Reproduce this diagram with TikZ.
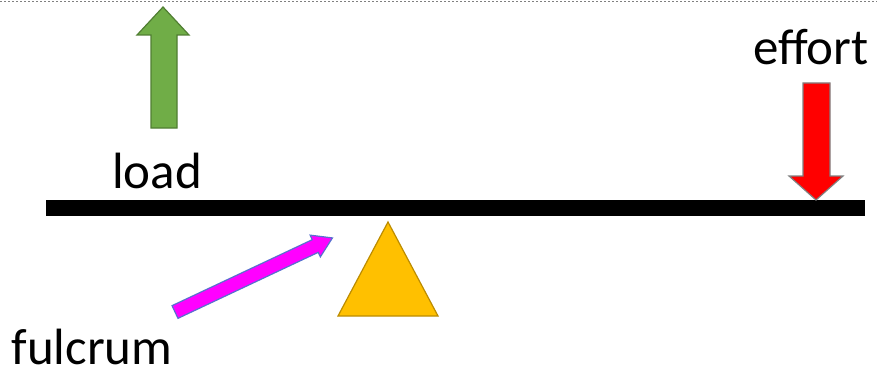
\documentclass[tikz,border=0pt]{standalone}
\usepackage{xcolor}
\usepackage{fontspec}
\setmainfont{Carlito}
\usepackage{tikz}

\definecolor{loadgreen}{HTML}{70AD47}
\definecolor{loadedge}{HTML}{507E32}
\definecolor{fulcorange}{HTML}{FFC000}
\definecolor{fulcedge}{HTML}{BC8C00}
\definecolor{pointpink}{HTML}{FF00FF}
\definecolor{pointedge}{HTML}{5A6FD0}

\begin{document}
\begin{tikzpicture}[x=0.5pt,y=-0.5pt,
    lbl/.style={font=\fontsize{25.5}{30}\selectfont, inner sep=0pt, anchor=base}]
            \useasboundingbox (0,0) rectangle (877,374);
            \draw[gray, line width=0.5pt, dash pattern=on 1pt off 1pt] (0,2) -- (877,2);

            % lever
            \fill[black] (46,200) rectangle (865,216);
            \draw[fill=fulcorange, draw=fulcedge, line width=0.6pt] (338,316) -- (388,222) -- (438,316) -- cycle;

            % load arrow
            \draw[fill=loadgreen, draw=loadedge, line width=0.6pt]
                (151,128) -- (151,35) -- (137,35) -- (163,7) -- (189,35) -- (177,35) -- (177,128) -- cycle;
            % effort arrow
            \draw[fill=red, draw=gray, line width=0.6pt]
                (803,83) -- (830,83) -- (830,176) -- (843,176) -- (816,200) -- (789,176) -- (803,176) -- cycle;
            % pointer to fulcrum
            \begin{scope}[shift={(175,312)}, rotate=25.2]
                \draw[fill=pointpink, draw=pointedge, line width=0.6pt]
                    (0,-7) -- (155,-7) -- (155,-12) -- (174,0) -- (155,12) -- (155,7) -- (0,7) -- cycle;
            \end{scope}

            \node[lbl] (effort) at (811,65) {effort};
            \node[lbl] (load) at (157,188) {load};
            \node[lbl] (fulcrum) at (92,364) {fulcrum};
         \end{tikzpicture}
\end{document}
